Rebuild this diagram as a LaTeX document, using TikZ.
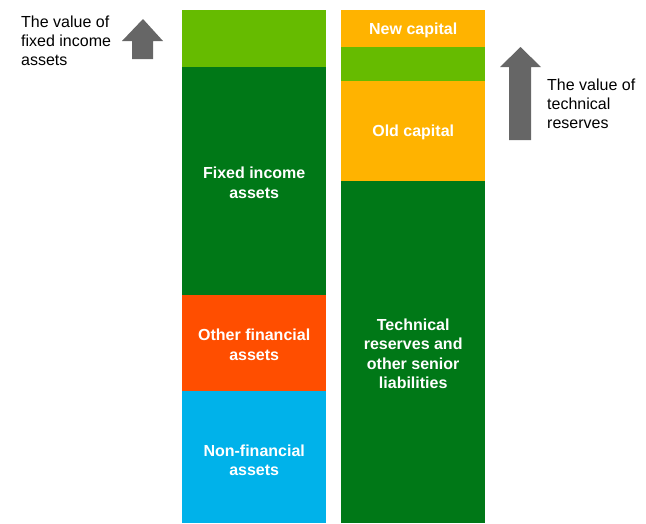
\documentclass[tikz,border=0pt]{standalone}
\usepackage{fontspec}
\setmainfont{Liberation Sans}
\definecolor{lgreen}{HTML}{66BB00}
\definecolor{dgreen}{HTML}{007817}
\definecolor{redor}{HTML}{FF4E00}
\definecolor{cyanb}{HTML}{00B2EA}
\definecolor{yell}{HTML}{FFB300}
\definecolor{arrgray}{HTML}{666666}
\tikzset{
  blk/.style={anchor=north west, inner sep=0pt, minimum width=144pt, draw=none, fill=#1},
  lbl/.style={text=white, inner sep=0pt, yshift=-1.5pt, font=\fontsize{16}{19.3}\selectfont\bfseries, align=center},
  note/.style={anchor=west, inner sep=0pt, align=left, font=\fontsize{16}{19}\selectfont},
  bigarrow/.style={fill=arrgray, draw=none}
}
\begin{document}
\begin{tikzpicture}[x=1pt,y=-1pt]
\useasboundingbox (0,0) rectangle (646,523);
% left column
\node[blk=lgreen, minimum height=57pt] (fa) at (182,10) {};
\node[blk=dgreen, minimum height=228pt] (fi) at (182,67) {};
\node[blk=redor, minimum height=96pt] (of) at (182,295) {};
\node[blk=cyanb, minimum height=132pt] (nf) at (182,391) {};
\node[lbl] (fil) at (fi.center) {Fixed income\\assets};
\node[lbl] (ofl) at (of.center) {Other financial\\assets};
\node[lbl, yshift=-1.5pt] (nfl) at (nf.center) {Non-financial\\assets};
% right column
\node[blk=yell, minimum height=37pt] (nc) at (341,10) {};
\node[blk=lgreen, minimum height=34pt] (tr) at (341,47) {};
\node[blk=yell, minimum height=100pt] (oc) at (341,81) {};
\node[blk=dgreen, minimum height=342pt] (tl) at (341,181) {};
\node[lbl] (ncl) at (nc.center) {New capital};
\node[lbl] (ocl) at (oc.center) {Old capital};
\node[lbl] (tll) at (tl.center) {Technical\\reserves and\\other senior\\liabilities};
% arrows
\fill[bigarrow] (143,19) -- (163,41) -- (153,41) -- (153,59) -- (132,59) -- (132,41) -- (122,41) -- cycle;
\fill[bigarrow] (520.5,47) -- (541,67) -- (531,67) -- (531,140) -- (509,140) -- (509,67) -- (500,67) -- cycle;
% notes
\node[note] (ln) at (21,40.5) {The value of\\fixed income\\assets};
\node[note] (rn) at (547,103.5) {The value of\\technical\\reserves};
\end{tikzpicture}
\end{document}
